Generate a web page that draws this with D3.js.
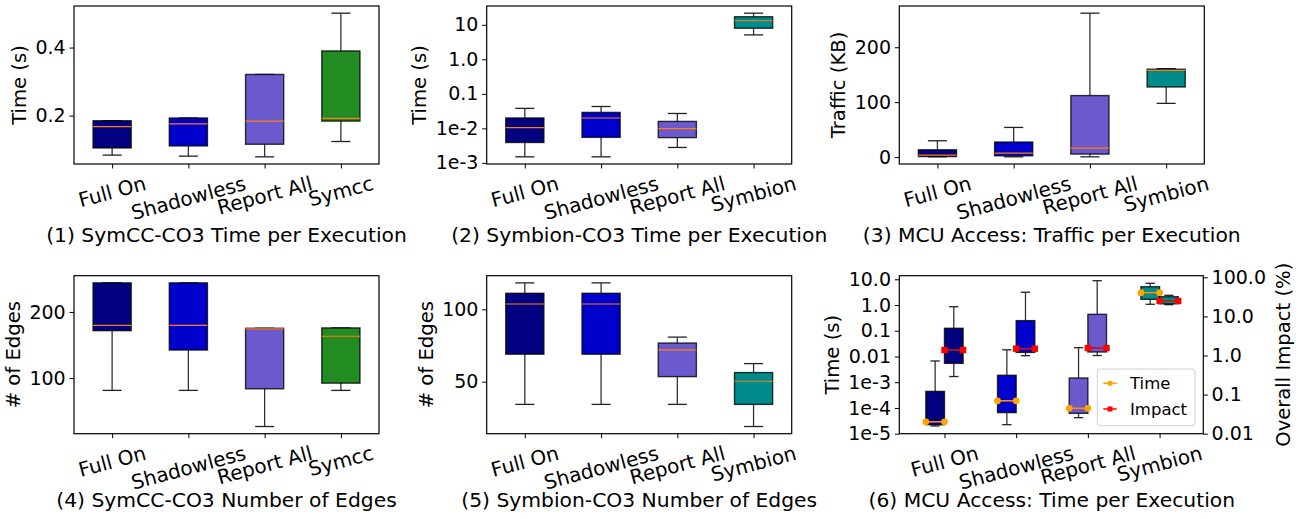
<!DOCTYPE html>
<html>
<head>
<meta charset="utf-8">
<script src="https://cdn.jsdelivr.net/npm/d3@7"></script>
<style>
  body { margin: 0; background: #fff; }
  svg { display: block; font-family: "DejaVu Sans", sans-serif; }
</style>
</head>
<body>
<svg id="chart" width="1300" height="519"></svg>
<script>
// ── data (box stats: [whisker low, q1, median, q3, whisker high]) ──────
const CATS_SYMCC   = ['Full On', 'Shadowless', 'Report All', 'Symcc'];
const CATS_SYMBION = ['Full On', 'Shadowless', 'Report All', 'Symbion'];

const COLORS_SYMCC   = ['#000080', '#0000cd', '#6a5acd', '#228b22'];
const COLORS_SYMBION = ['#000080', '#0000cd', '#6a5acd', '#008b8b'];

const SYMCC_TIME = [
  [0.084, 0.105, 0.168, 0.185, 0.185],
  [0.081, 0.111, 0.176, 0.193, 0.193],
  [0.079, 0.116, 0.184, 0.321, 0.321],
  [0.124, 0.184, 0.192, 0.390, 0.501],
];
const SYMBION_TIME = [
  [0.0015, 0.0039, 0.0105, 0.020, 0.038],
  [0.0015, 0.0055, 0.020, 0.029, 0.043],
  [0.0028, 0.0054, 0.0098, 0.0159, 0.027],
  [5.1, 7.96, 13.1, 17.1, 21.7],
];
const MCU_TRAFFIC = [
  [0.5, 1, 3.6, 13.3, 29.7],
  [0.5, 2.4, 7.3, 27.4, 54],
  [0.5, 5.5, 16.4, 112, 262],
  [97.8, 127.7, 158, 160, 161],
];
const SYMCC_EDGES = [
  [81.4, 171.7, 179.8, 243.9, 243.9],
  [81.4, 142.4, 179.8, 243.9, 243.9],
  [26.8, 83.8, 174.5, 175.3, 175.3],
  [81.4, 92.4, 163.2, 175.8, 175.8],
];
const SYMBION_EDGES = [
  [34.3, 69, 103.7, 111.1, 118.3],
  [34.3, 69, 103.7, 111.1, 118.3],
  [34.3, 53.5, 72, 76.7, 80.8],
  [19, 34.3, 50.3, 56.3, 62.5],
];
const MCU_TIME = [
  [2.0e-5, 2.24e-5, 2.9e-5, 4.4e-4, 6.7e-3],
  [2.24e-5, 6.6e-5, 1.9e-4, 1.86e-3, 0.0182],
  [4.2e-5, 6.2e-5, 9.7e-5, 1.46e-3, 0.022],
  [1.07, 1.67, 3.02, 5.17, 7.0],
];
const MCU_IMPACT = [
  [0.29, 0.63, 1.38, 4.97, 17.7],
  [0.99, 1.2, 1.49, 7.8, 41.6],
  [1.0, 1.23, 1.55, 11.3, 81.9],
  [20, 21.1, 24.8, 31.9, 34.7],
];

// ticks
const TICKS_1 = [0.2, 0.4];             const TICK_LABELS_1 = ['0.2', '0.4'];
const TICKS_2 = [1e-3, 1e-2, 0.1, 1, 10]; const TICK_LABELS_2 = ['1e-3', '1e-2', '0.1', '1.0', '10'];
const TICKS_3 = [0, 100, 200];          const TICK_LABELS_3 = ['0', '100', '200'];
const TICKS_4 = [100, 200];             const TICK_LABELS_4 = ['100', '200'];
const TICKS_5 = [50, 100];              const TICK_LABELS_5 = ['50', '100'];
const TICKS_6 = [1e-5, 1e-4, 1e-3, 0.01, 0.1, 1, 10];
const TICK_LABELS_6 = ['1e-5', '1e-4', '1e-3', '0.01', '0.1', '1.0', '10.0'];
const TICKS_6R = [0.01, 0.1, 1, 10, 100];
const TICK_LABELS_6R = ['0.01', '0.1', '1.0', '10.0', '100.0'];
const DOMAIN_6  = [1e-5, 13.8];
const DOMAIN_6R = [0.01, 110];

const CAPTIONS = [
  '(1) SymCC-CO3 Time per Execution',
  '(2) Symbion-CO3 Time per Execution',
  '(3) MCU Access: Traffic per Execution',
  '(4) SymCC-CO3 Number of Edges',
  '(5) Symbion-CO3 Number of Edges',
  '(6) MCU Access: Time per Execution',
];
const LEGEND_LABELS = ['Time', 'Impact'];

// ── layout ─────────────────────────────────────────────
const FONT = 19;        // y tick labels
const LABEL_FONT = 19.6; // y axis titles
const XTICK_FONT = 20;
const CAPTION_FONT = 20.3;
const W = 305, H = 158;
const COLS = [74, 486.7, 899.3];
const ROWS = [6, 275.7];
const CAPTION_Y = [242, 507];
const MEDIAN = '#ff7f0e';
const EDGE = 'rgba(0,0,0,0.78)';

const svg = d3.select('#chart');

function padDomain(stats, log) {
  const lo = d3.min(stats, d => d[0]);
  const hi = d3.max(stats, d => d[4]);
  if (log) {
    const a = Math.log10(lo), b = Math.log10(hi), m = (b - a) * 0.05;
    return [Math.pow(10, a - m), Math.pow(10, b + m)];
  }
  const m = (hi - lo) * 0.05;
  return [lo - m, hi + m];
}

function styleAxis(g) {
  g.select('.domain').remove();
  g.selectAll('.tick line').attr('stroke', '#000').attr('stroke-width', 1);
  g.selectAll('.tick text')
    .attr('fill', '#000')
    .attr('font-size', FONT)
    .attr('font-family', '"DejaVu Sans", sans-serif');
}

function leftAxis(g, y, ticks, labels, ylabel) {
  const ax = g.append('g').call(
    d3.axisLeft(y).tickValues(ticks).tickFormat((d, i) => labels[i]).tickSize(4.5).tickPadding(3.8));
  styleAxis(ax);
  let maxW = 0;
  ax.selectAll('.tick text').each(function () { maxW = Math.max(maxW, this.getComputedTextLength()); });
  g.append('text')
    .attr('transform', `translate(${-8.3 - maxW - 16.5},${H / 2}) rotate(-90)`)
    .attr('text-anchor', 'middle').attr('dy', '0.36em')
    .attr('font-size', LABEL_FONT).text(ylabel);
}

function rightAxis(g, y, ticks, labels, ylabel) {
  const ax = g.append('g').attr('transform', `translate(${W - 1},0)`).call(
    d3.axisRight(y).tickValues(ticks).tickFormat((d, i) => labels[i]).tickSize(4.5).tickPadding(3.8));
  styleAxis(ax);
  let maxW = 0;
  ax.selectAll('.tick text').each(function () { maxW = Math.max(maxW, this.getComputedTextLength()); });
  g.append('text')
    .attr('transform', `translate(${W - 1 + 8.3 + maxW + 16.5},${H / 2}) rotate(-90)`)
    .attr('text-anchor', 'middle').attr('dy', '0.36em')
    .attr('font-size', LABEL_FONT).text(ylabel);
}

function bottomAxis(g, x, cats) {
  const ax = g.append('g').attr('transform', `translate(0,${H})`).call(
    d3.axisBottom(x).tickValues(cats.map((c, i) => i + 1)).tickFormat('').tickSize(4.5));
  styleAxis(ax);
  const a = 15 * Math.PI / 180;
  cats.forEach((c, i) => {
    const xc = x(i + 1);
    const t = g.append('text').attr('font-size', XTICK_FONT).attr('text-anchor', 'middle').text(c);
    const w = t.node().getComputedTextLength();
    const yc = H + 11.5 + (w * Math.sin(a) + XTICK_FONT * 0.73 * Math.cos(a)) / 2;
    t.attr('x', xc).attr('y', yc).attr('dy', '0.36em')
      .attr('transform', `rotate(-15,${xc},${yc})`);
  });
}

function drawBoxes(g, x, y, stats, colors, opt) {
  const off = opt.offset || 0;
  const bw = x(opt.width) - x(0);
  stats.forEach((s, i) => {
    const cx = x(i + 1 + off);
    const b = g.append('g');
    // whiskers + caps
    [[s[0], s[1]], [s[3], s[4]]].forEach(([a, c]) => {
      b.append('line').attr('x1', cx).attr('x2', cx).attr('y1', y(a)).attr('y2', y(c))
        .attr('stroke', '#333').attr('stroke-width', 1.3);
    });
    [s[0], s[4]].forEach(v => {
      b.append('line').attr('x1', cx - bw / 4).attr('x2', cx + bw / 4).attr('y1', y(v)).attr('y2', y(v))
        .attr('stroke', '#222').attr('stroke-width', 1.3);
    });
    b.append('rect')
      .attr('x', cx - bw / 2).attr('width', bw)
      .attr('y', y(s[3])).attr('height', Math.max(0, y(s[1]) - y(s[3])))
      .attr('fill', colors[i]).attr('stroke', EDGE).attr('stroke-width', 1.4);
    const ym = y(s[2]);
    b.append('line').attr('x1', cx - bw / 2).attr('x2', cx + bw / 2).attr('y1', ym).attr('y2', ym)
      .attr('stroke', opt.median || MEDIAN).attr('stroke-width', opt.marker ? 1.6 : 1.2);
    if (opt.marker === 'circle') {
      [cx - bw / 2, cx + bw / 2].forEach(mx =>
        b.append('circle').attr('cx', mx).attr('cy', ym).attr('r', 3.4).attr('fill', '#ffa500'));
    } else if (opt.marker === 'square') {
      [cx - bw / 2, cx + bw / 2].forEach(mx =>
        b.append('rect').attr('x', mx - 3.2).attr('y', ym - 3.2).attr('width', 6.4).attr('height', 6.4).attr('fill', '#ff0000'));
    }
  });
}

function frame(g) {
  g.append('rect').attr('x', 0).attr('y', 0).attr('width', W).attr('height', H)
    .attr('fill', 'none').attr('stroke', '#000').attr('stroke-width', 1.2);
}

function caption(col, row, text) {
  svg.append('text')
    .attr('x', COLS[col] + W / 2).attr('y', CAPTION_Y[row])
    .attr('text-anchor', 'middle').attr('font-size', CAPTION_FONT).text(text);
}

// ── panels 1–5 ─────────────────────────────────────────
const PANELS = [
  { col: 0, row: 0, cats: CATS_SYMCC,   colors: COLORS_SYMCC,   stats: SYMCC_TIME,    log: false, ticks: TICKS_1, labels: TICK_LABELS_1, ylabel: 'Time (s)' },
  { col: 1, row: 0, cats: CATS_SYMBION, colors: COLORS_SYMBION, stats: SYMBION_TIME,  log: true,  ticks: TICKS_2, labels: TICK_LABELS_2, ylabel: 'Time (s)' },
  { col: 2, row: 0, cats: CATS_SYMBION, colors: COLORS_SYMBION, stats: MCU_TRAFFIC,   log: false, ticks: TICKS_3, labels: TICK_LABELS_3, ylabel: 'Traffic (KB)' },
  { col: 0, row: 1, cats: CATS_SYMCC,   colors: COLORS_SYMCC,   stats: SYMCC_EDGES,   log: false, ticks: TICKS_4, labels: TICK_LABELS_4, ylabel: '# of Edges' },
  { col: 1, row: 1, cats: CATS_SYMBION, colors: COLORS_SYMBION, stats: SYMBION_EDGES, log: false, ticks: TICKS_5, labels: TICK_LABELS_5, ylabel: '# of Edges' },
];

PANELS.forEach((p, k) => {
  const g = svg.append('g').attr('transform', `translate(${COLS[p.col]},${ROWS[p.row]})`);
  const x = d3.scaleLinear().domain([0.5, 4.5]).range([0, W]);
  const y = (p.log ? d3.scaleLog() : d3.scaleLinear()).domain(padDomain(p.stats, p.log)).range([H, 0]);
  drawBoxes(g, x, y, p.stats, p.colors, { width: 0.5 });
  frame(g);
  leftAxis(g, y, p.ticks, p.labels, p.ylabel);
  bottomAxis(g, x, p.cats);
  caption(p.col, p.row, CAPTIONS[k]);
});

// ── panel 6: twin log axes ─────────────────────────────
(() => {
  const g = svg.append('g').attr('transform', `translate(${COLS[2]},${ROWS[1]})`);
  const x = d3.scaleLinear().domain([0.37, 4.61]).range([0, W - 1]);
  const yL = d3.scaleLog().domain(DOMAIN_6).range([H, 0]);
  const yR = d3.scaleLog().domain(DOMAIN_6R).range([H, 0]);
  drawBoxes(g, x, yL, MCU_TIME, COLORS_SYMBION, { width: 0.26, offset: -0.13, median: '#ff8c00', marker: 'circle' });
  drawBoxes(g, x, yR, MCU_IMPACT, COLORS_SYMBION, { width: 0.26, offset: 0.13, median: '#d01010', marker: 'square' });
  g.append('rect').attr('x', 0).attr('y', 0).attr('width', W - 1).attr('height', H)
    .attr('fill', 'none').attr('stroke', '#000').attr('stroke-width', 1.2);
  leftAxis(g, yL, TICKS_6, TICK_LABELS_6, 'Time (s)');
  rightAxis(g, yR, TICKS_6R, TICK_LABELS_6R, 'Overall Impact (%)');
  bottomAxis(g, x, CATS_SYMBION);
  caption(2, 1, CAPTIONS[5]);

  // legend
  const lg = g.append('g').attr('transform', 'translate(198,93.3)');
  lg.append('rect').attr('width', 97.7).attr('height', 56.7).attr('rx', 3)
    .attr('fill', 'rgba(255,255,255,0.85)').attr('stroke', '#d0d0d0');
  LEGEND_LABELS.forEach((lab, i) => {
    const ly = 14.3 + i * 25.7;
    const col = i === 0 ? '#ffa500' : '#ff0000';
    lg.append('line').attr('x1', 6).attr('x2', 19.4).attr('y1', ly).attr('y2', ly)
      .attr('stroke', col).attr('stroke-width', 1.5);
    if (i === 0) lg.append('circle').attr('cx', 12.7).attr('cy', ly).attr('r', 2.6).attr('fill', col);
    else lg.append('rect').attr('x', 10.2).attr('y', ly - 2.5).attr('width', 5).attr('height', 5).attr('fill', col);
    lg.append('text').attr('x', 32.7).attr('y', ly).attr('dy', '0.36em')
      .attr('font-size', 16.5).text(lab);
  });
})();
</script>
</body>
</html>
